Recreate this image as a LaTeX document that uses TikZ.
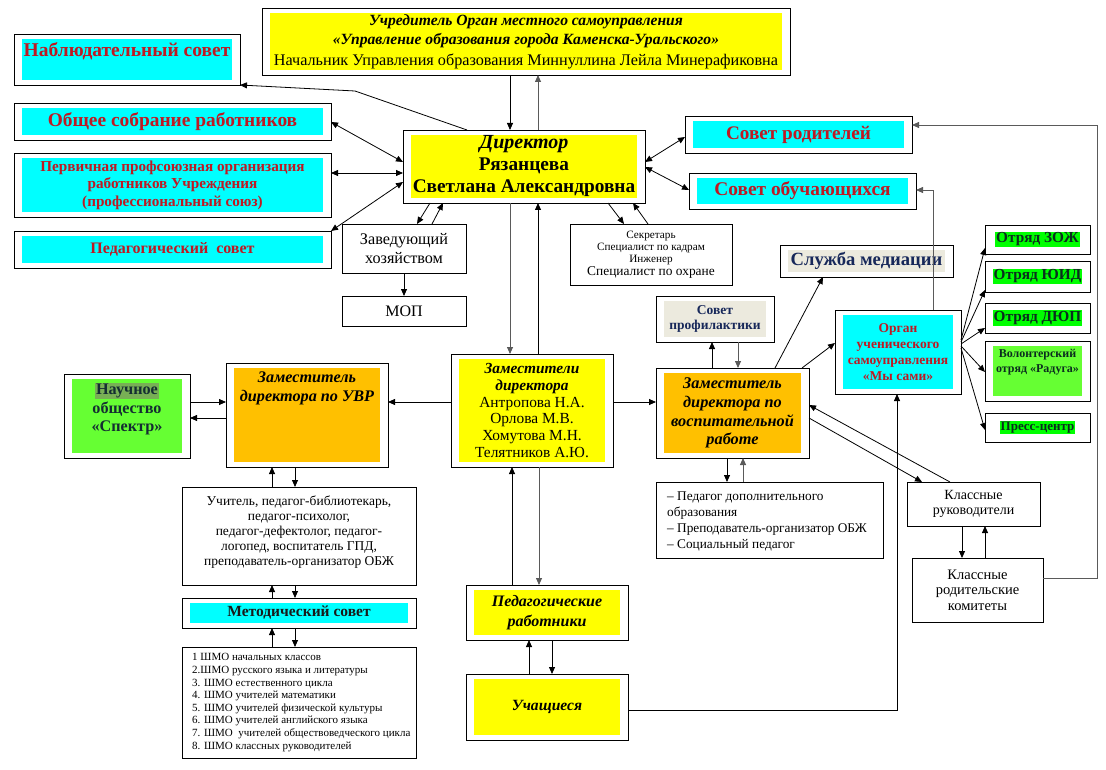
\documentclass[tikz,border=0pt]{standalone}
\usepackage{fontspec}
\setmainfont{Liberation Serif}
\usetikzlibrary{arrows.meta}
\definecolor{cyanf}{RGB}{0,255,255}
\definecolor{yelf}{RGB}{255,255,0}
\definecolor{orf}{RGB}{255,192,0}
\definecolor{greenf}{RGB}{0,255,0}
\definecolor{lgreen}{RGB}{102,255,51}
\definecolor{beige}{RGB}{236,234,222}
\definecolor{redt}{RGB}{190,25,35}
\definecolor{navyt}{RGB}{23,40,90}
\definecolor{grt}{RGB}{10,45,30}
\definecolor{nat}{RGB}{20,45,50}
\definecolor{hlg}{RGB}{120,175,85}
\definecolor{dkt}{RGB}{25,25,25}
\definecolor{gline}{RGB}{90,90,90}
\setlength{\fboxsep}{1pt}
\newcommand\fsz[2]{\fontsize{#1}{#2}\selectfont}
\newcommand\mkbox[6][]{\node[frame,#1,minimum width={(#4-#2)*1pt},minimum height={(#5-#3)*1pt}] (#6) at (#2,#3)}
\begin{document}
\begin{tikzpicture}[x=1pt,y=-1pt,
 frame/.style={draw=black,line width=0.9pt,fill=white,inner sep=0pt,outer sep=0pt,anchor=north west,align=center},
 inset/.style={path picture={\fill[#1] ([shift={(8pt,-5pt)}]path picture bounding box.north west) rectangle ([shift={(-8pt,5pt)}]path picture bounding box.south east);}},
 lbl/.style={inner sep=0pt,align=center},
 arr/.style={line width=0.8pt,-{Triangle[length=7pt,width=6pt]}},
 darr/.style={line width=0.8pt,{Triangle[length=7pt,width=6pt]}-{Triangle[length=7pt,width=6pt]}},
]
\fill[white] (0,0) rectangle (1106,770);
\useasboundingbox (0,0) rectangle (1106,770);

% ---------- boxes ----------
\mkbox[inset=yelf,font=\fsz{16.2}{19.5}]{262}{8}{790}{75}{uchr}{{\bfseries\itshape\fsz{15.6}{19.5}Учредитель Орган местного самоуправления}\\{\bfseries\itshape\fsz{15.6}{19.5}«Управление образования города Каменска-Уральского»}\\[1pt]Начальник Управления образования Миннуллина Лейла Минерафиковна};

\mkbox[inset=cyanf]{14}{34}{240}{85}{nab}{};
\node[lbl,font=\fsz{19.5}{22}\bfseries,text=redt] (nabt) at (127,51) {Наблюдательный совет};
\mkbox[inset=cyanf,font=\fsz{19.4}{22}\bfseries,text=redt]{14}{103}{331}{140}{obs}{Общее собрание работников};
\mkbox[inset=cyanf,font=\fsz{15.2}{17.5}\bfseries,text=redt]{14}{153}{331}{217}{perv}{Первичная профсоюзная организация\\работников Учреждения\\(профессиональный союз)};
\mkbox[inset=cyanf,font=\fsz{16}{18}\bfseries,text=redt]{14}{231}{331}{268}{ped}{Педагогический \ совет};

\mkbox[inset=yelf,font=\fsz{19.3}{22}\bfseries]{403}{130}{645}{203}{dir}{{\itshape\fsz{20}{22}Директор}\\Рязанцева\\Светлана Александровна};
\mkbox[font=\fsz{16.2}{19}]{342}{224}{466}{273}{zav}{Заведующий\\хозяйством};
\mkbox[font=\fsz{16}{18}]{342}{296}{466}{326}{mop}{МОП};
\mkbox[font=\fsz{11.2}{12.3}]{570}{224}{732}{285}{sek}{Секретарь\\Специалист по кадрам\\Инженер\\{\fsz{13.4}{13.5}Специалист по охране}};

\mkbox[inset=cyanf,font=\fsz{19.2}{22}\bfseries,text=redt]{685}{116}{912}{153}{srod}{Совет родителей};
\mkbox[inset=cyanf,font=\fsz{19.4}{22}\bfseries,text=redt]{689}{173}{916}{209}{sobu}{Совет обучающихся};
\mkbox[inset=beige,font=\fsz{18.6}{20}\bfseries,text=navyt]{780}{245}{953}{277}{med}{Служба медиации};
\mkbox[inset=beige,font=\fsz{13.5}{15.5}\bfseries,text=navyt]{656}{296}{774}{342}{prof}{Совет\\профилактики};
\mkbox[inset=cyanf,font=\fsz{13.5}{16}\bfseries,text=redt]{835}{310}{961}{394}{org}{Орган\\ученического\\самоуправления\\«Мы сами»};

\mkbox[font=\fsz{15.3}{16}\bfseries,text=grt]{985}{225}{1090}{254}{z1}{\colorbox{greenf}{Отряд ЗОЖ}};
\mkbox[font=\fsz{15.3}{16}\bfseries,text=grt]{985}{261}{1090}{292}{z2}{\colorbox{greenf}{Отряд ЮИД}};
\mkbox[font=\fsz{15.3}{16}\bfseries,text=grt]{985}{303}{1090}{333}{z3}{\colorbox{greenf}{Отряд ДЮП}};
\mkbox[inset=lgreen]{985}{341}{1090}{401}{z4}{};
\node[lbl,font=\fsz{12}{15}\bfseries,text=grt] (z4t) at (1037.5,362) {Волонтерский\\отряд «Радуга»};
\mkbox[font=\fsz{13}{15}\bfseries,text=grt]{985}{413}{1090}{442}{z5}{\colorbox{greenf}{Пресс-центр}};

\mkbox[inset=lgreen]{64}{374}{190}{458}{nauch}{};
\node[lbl,font=\fsz{16.2}{18.5}\bfseries,text=nat] (naucht) at (127,409) {\colorbox{hlg}{Научное}\\общество\\«Спектр»};
\mkbox[inset=orf]{226}{363}{388}{467}{uvr}{};
\node[lbl,font=\fsz{16.2}{19}\bfseries\itshape] (uvrt) at (307,388) {Заместитель\\директора по УВР};

\mkbox[inset=yelf,font=\fsz{15.4}{16.8}]{451}{354}{613}{467}{zams}{{\bfseries\itshape Заместители}\\{\bfseries\itshape директора}\\Антропова Н.А.\\Орлова М.В.\\Хомутова М.Н.\\Телятников А.Ю.};
\mkbox[inset=orf,font=\fsz{16.3}{18.7}\bfseries\itshape]{656}{368}{809}{458}{vr}{Заместитель\\директора по\\воспитательной\\работе};

\mkbox{182}{487}{416}{585}{uch}{};
\node[lbl,font=\fsz{13.5}{15}] (ucht) at (299,532) {Учитель, педагог-библиотекарь,\\педагог-психолог,\\педагог-дефектолог, педагог-\\логопед, воспитатель ГПД,\\преподаватель-организатор ОБЖ};
\mkbox[inset=cyanf,font=\fsz{15.5}{16}\bfseries,text=dkt]{182}{598}{416}{628}{met}{Методический совет};
\mkbox{182}{647}{416}{758}{shmo}{};
\node[lbl,anchor=west,align=left,font=\fsz{11}{12.6}] (shmot) at (192,702.5) {1 ШМО начальных классов\\2.ШМО русского языка и литературы\\3. ШМО естественного цикла\\4. ШМО учителей математики\\5. ШМО учителей физической культуры\\6. ШМО учителей английского языка\\7. ШМО \ учителей обществоведческого цикла\\8. ШМО классных руководителей};

\mkbox{656}{482}{883}{558}{pdo}{};
\node[lbl,anchor=west,align=left,font=\fsz{13.3}{16}] (pdot) at (667,521) {– Педагог дополнительного\\образования\\– Преподаватель-организатор ОБЖ\\– Социальный педагог};
\mkbox[font=\fsz{14}{14.5}]{907}{482}{1040}{526}{kr}{Классные\\руководители};
\mkbox[font=\fsz{14.5}{15.5}]{912}{558}{1043}{622}{krk}{Классные\\родительские\\комитеты};
\mkbox[inset=yelf,font=\fsz{16}{20}\bfseries\itshape]{466}{585}{628}{640}{pedr}{Педагогические\\работники};
\mkbox[inset=yelf,font=\fsz{15.6}{18}\bfseries\itshape]{466}{674}{628}{740}{uchsh}{Учащиеся};

% ---------- connectors ----------
\draw[arr] (510,0 |- uchr.south) -- (510,0 |- dir.north);
\draw[arr,draw=gline] (538,0 |- dir.north) -- (538,0 |- uchr.south);
\coordinate (nbend) at (355,91);
\draw[arr] (467,0 |- dir.north) -- (nbend) -- (nab.south east);
\draw[darr] (obs.east |- 0,122) -- (dir.west |- 0,162);
\draw[darr] (perv.east |- 0,173) -- (dir.west |- 0,173);
\draw[darr] (ped.north east) -- (dir.west |- 0,182);
\draw[arr] (430,0 |- dir.south) -- (417,0 |- zav.north);
\draw[arr] (432,0 |- zav.north) -- (443,0 |- dir.south);
\draw[arr] (404,0 |- zav.south) -- (404,0 |- mop.north);
\draw[arr] (608,0 |- dir.south) -- (624,0 |- sek.north);
\draw[arr] (648,0 |- sek.north) -- (633,0 |- dir.south);
\draw[darr] (dir.east |- 0,162) -- (srod.west |- 0,137);
\draw[darr] (dir.east |- 0,167) -- (sobu.west |- 0,190);
\draw[arr,draw=gline] (510,0 |- dir.south) -- (510,0 |- zams.north);
\draw[arr] (538,0 |- zams.north) -- (538,0 |- dir.south);
\draw[arr] (zams.west |- 0,402) -- (uvr.east |- 0,402);
\draw[arr] (zams.east |- 0,402) -- (vr.west |- 0,402);
\draw[arr] (nauch.east |- 0,402) -- (uvr.west |- 0,402);
\draw[arr] (uvr.west |- 0,418) -- (nauch.east |- 0,418);
\draw[arr] (272,0 |- uch.north) -- (272,0 |- uvr.south);
\draw[arr] (295,0 |- uvr.south) -- (295,0 |- uch.north);
\draw[arr] (272,0 |- met.north) -- (272,0 |- uch.south);
\draw[arr] (295,0 |- uch.south) -- (295,0 |- met.north);
\draw[arr] (272,0 |- shmo.north) -- (272,0 |- met.south);
\draw[arr] (295,0 |- met.south) -- (295,0 |- shmo.north);
\draw[arr] (512,0 |- pedr.north) -- (512,0 |- zams.south);
\draw[arr,draw=gline] (539,0 |- zams.south) -- (539,0 |- pedr.north);
\draw[arr] (529,0 |- uchsh.north) -- (529,0 |- pedr.south);
\draw[arr] (552,0 |- pedr.south) -- (552,0 |- uchsh.north);
\draw[arr] (uchsh.east |- 0,710) -| (897,0 |- org.south);
\draw[arr] (712,0 |- vr.north) -- (712,0 |- prof.south);
\draw[arr,draw=gline] (738,0 |- prof.south) -- (738,0 |- vr.north);
\draw[arr] (775,0 |- vr.north) -- (823,0 |- med.south);
\draw[arr] (802,0 |- vr.north) -- (org.west |- 0,343);
\draw[arr] (950,0 |- kr.north) -- (vr.east |- 0,405);
\draw[arr] (vr.east |- 0,418) -- (922,0 |- kr.north);
\draw[arr] (727,0 |- vr.south) -- (727,0 |- pdo.north);
\draw[arr,draw=gline] (743,0 |- pdo.north) -- (743,0 |- vr.south);
\draw[arr] (962,0 |- kr.south) -- (962,0 |- krk.north);
\draw[arr] (985,0 |- krk.north) -- (985,0 |- kr.south);
\draw[arr,draw=gline] (krk.east |- 0,578) -- ++(54,0) |- (srod.east |- 0,125);
\draw[arr,draw=gline] (933,0 |- org.north) |- (sobu.east |- 0,190);
\draw[arr] (org.east |- 0,340) -- (z1.west |- 0,248);
\draw[arr] (org.east |- 0,342) -- (z2.west |- 0,290);
\draw[arr] (org.east |- 0,344) -- (z3.west |- 0,328);
\draw[arr] (org.east |- 0,346) -- (z4.west |- 0,372);
\draw[arr] (org.east |- 0,348) -- (z5.west |- 0,430);
\end{tikzpicture}
\end{document}
